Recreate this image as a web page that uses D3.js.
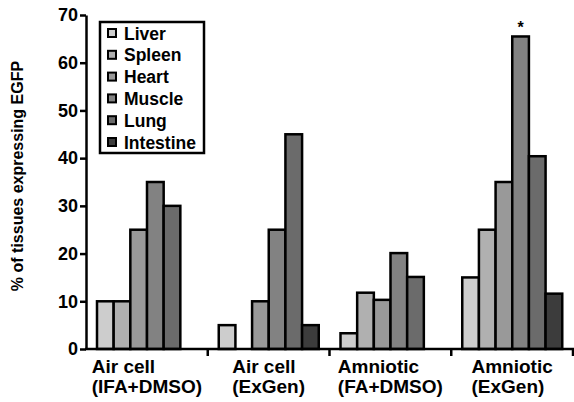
<!DOCTYPE html>
<html>
<head>
<meta charset="utf-8">
<script src="https://cdn.jsdelivr.net/npm/d3@7"></script>
<style>
  body { margin: 0; background: #fff; }
  text { font-family: "Liberation Sans", Arial, sans-serif; font-weight: bold; fill: #000; }
</style>
</head>
<body>
<div id="chart"></div>
<script>
const groups = ["Air cell (IFA+DMSO)", "Air cell (ExGen)", "Amniotic (FA+DMSO)", "Amniotic (ExGen)"];
const groupLines = [["Air cell", "(IFA+DMSO)"], ["Air cell", "(ExGen)"], ["Amniotic", "(FA+DMSO)"], ["Amniotic", "(ExGen)"]];
const tissues = ["Liver", "Spleen", "Heart", "Muscle", "Lung", "Intestine"];
const colors = ["#cdcdcd", "#b0b0b0", "#999999", "#828282", "#6b6b6b", "#3c3c3c"];
const values = [
    [10, 10, 25, 35, 30, 0],
    [5, 0, 10, 25, 45, 5],
    [3.3, 11.8, 10.3, 20.1, 15.1, 0],
    [15, 25, 35, 65.5, 40.4, 11.6]
];
const yTicks = [0, 10, 20, 30, 40, 50, 60, 70];
const starred = { group: 3, tissue: 3 };

const width = 574;
const height = 402;
const marginLeft = 86;
const marginRight = 1;
const marginTop = 15;
const marginBottom = 53;

const svg = d3.select("#chart").append("svg")
    .attr("width", width)
    .attr("height", height)
    .attr("viewBox", [0, 0, width, height]);

const x = d3.scaleBand(groups, [marginLeft, width - marginRight]).padding(0);
const xInner = d3.scaleBand(tissues, [11, 111]).padding(0);
const y = d3.scaleLinear([0, 70], [height - marginBottom, marginTop]);

// bars
const g = svg.append("g");
groups.forEach((grp, gi) => {
    g.selectAll(null)
        .data(values[gi].map((v, ti) => ({ v, ti })).filter(d => d.v > 0))
        .join("rect")
        .attr("x", d => x(grp) + xInner(tissues[d.ti]))
        .attr("y", d => y(d.v))
        .attr("width", xInner.bandwidth())
        .attr("height", d => y(0) - y(d.v))
        .attr("fill", d => colors[d.ti])
        .attr("stroke", "#000")
        .attr("stroke-width", 2.5);
});

// star
const sv = values[starred.group][starred.tissue];
svg.append("text")
    .attr("x", x(groups[starred.group]) + xInner(tissues[starred.tissue]) + xInner.bandwidth() / 2)
    .attr("y", y(sv) - 3)
    .attr("text-anchor", "middle")
    .attr("font-size", 16)
    .text("*");

// y axis
const yAxis = svg.append("g")
    .attr("transform", `translate(${marginLeft},0)`)
    .call(d3.axisLeft(y).tickValues(yTicks).tickSize(6).tickPadding(2).tickSizeOuter(0));
yAxis.select(".domain").attr("stroke-width", 2.5);
yAxis.selectAll(".tick line").attr("stroke-width", 2.5);
yAxis.selectAll("text").attr("font-size", 18).attr("font-family", null);

// x axis
const xAxis = svg.append("g")
    .attr("transform", `translate(0,${y(0)})`);
xAxis.append("line")
    .attr("x1", marginLeft - 1)
    .attr("x2", width)
    .attr("stroke", "#000")
    .attr("stroke-width", 2.5);
xAxis.selectAll(".sep")
    .data(groups)
    .join("line")
    .attr("x1", d => x(d) + x.bandwidth())
    .attr("x2", d => x(d) + x.bandwidth())
    .attr("y1", 0)
    .attr("y2", 7)
    .attr("stroke", "#000")
    .attr("stroke-width", 2.5);

// category labels, two lines, left aligned block centred on group
groups.forEach((grp, gi) => {
    const lab = svg.append("text")
        .attr("font-size", 19)
        .attr("y", y(0) + 24);
    lab.selectAll("tspan")
        .data(groupLines[gi])
        .join("tspan")
        .attr("dy", (d, i) => i ? 20 : 0)
        .text(d => d);
    const spans = lab.selectAll("tspan").nodes();
    const w = d3.max(spans, n => n.getComputedTextLength());
    const left = x(grp) + x.bandwidth() / 2 - w / 2;
    lab.selectAll("tspan").attr("x", left);
});

// y title
svg.append("text")
    .attr("transform", `translate(23,176) rotate(-90)`)
    .attr("text-anchor", "middle")
    .attr("font-size", 16)
    .text("% of tissues expressing EGFP");

// legend
const legend = svg.append("g").attr("transform", "translate(100,22)");
legend.append("rect")
    .attr("width", 104)
    .attr("height", 131)
    .attr("fill", "#fff")
    .attr("stroke", "#000")
    .attr("stroke-width", 2.5);
const item = legend.selectAll(".item")
    .data(tissues)
    .join("g")
    .attr("transform", (d, i) => `translate(8,${11 + i * 21.8})`);
item.append("rect")
    .attr("x", 0)
    .attr("y", -4)
    .attr("width", 8)
    .attr("height", 8)
    .attr("fill", (d, i) => colors[i])
    .attr("stroke", "#000")
    .attr("stroke-width", 2);
item.append("text")
    .attr("x", 16)
    .attr("y", 6.5)
    .attr("font-size", 17.5)
    .text(d => d);
</script>
</body>
</html>
